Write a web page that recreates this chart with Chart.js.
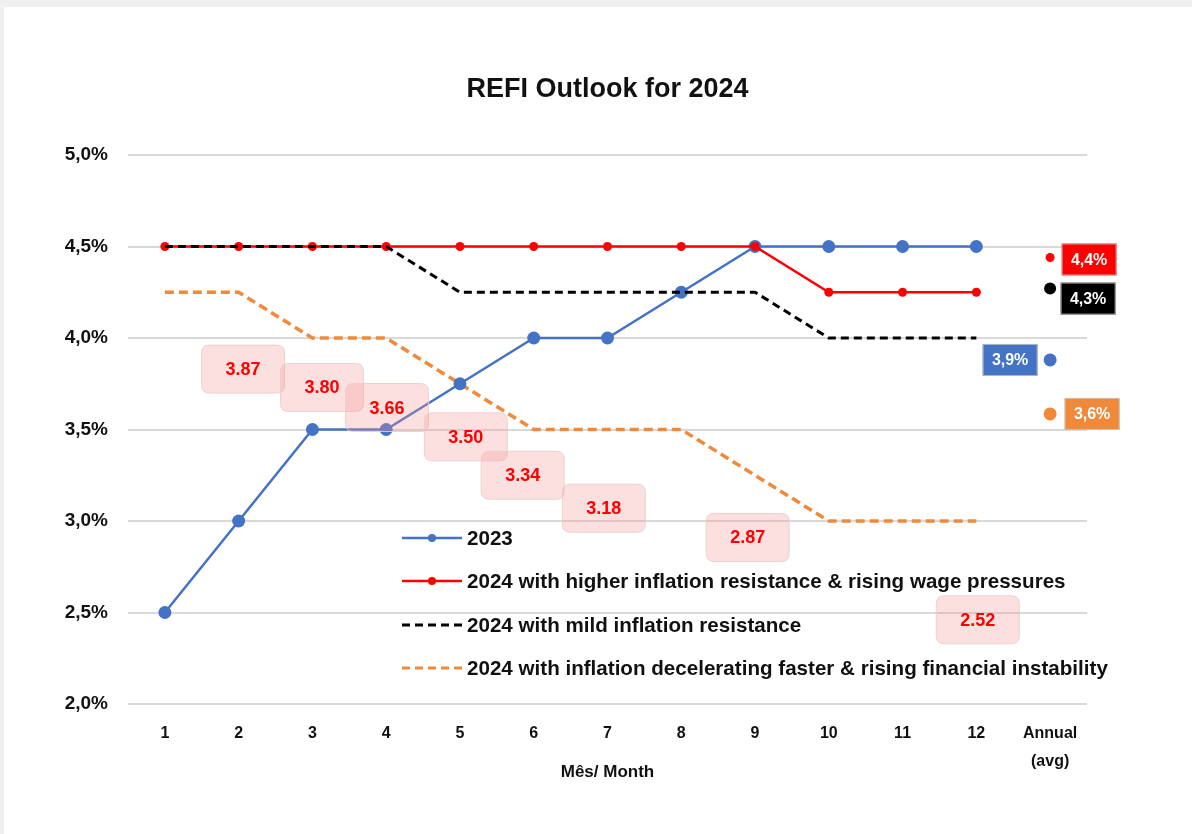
<!DOCTYPE html>
<html><head><meta charset="utf-8">
<script src="https://cdn.jsdelivr.net/npm/chart.js@4.4.1/dist/chart.umd.min.js"></script>
<style>
html,body{margin:0;padding:0;background:#efefef;width:1192px;height:834px;overflow:hidden}
#card{position:absolute;left:4px;top:7px;width:1188px;height:827px;background:#fff}
canvas{display:block}
</style></head><body>
<div id="card"><canvas id="c" width="1188" height="827"></canvas></div>
<script>
// ---- data ----
const months = [1,2,3,4,5,6,7,8,9,10,11,12];
const annualPos = 13;
const annualLabel = ['Annual','(avg)'];
const yTicks = [2.0,2.5,3.0,3.5,4.0,4.5,5.0];
const seriesNames = ['2023','2024 with higher inflation resistance & rising wage pressures','2024 with mild inflation resistance','2024 with inflation decelerating faster & rising financial instability'];
const s2023 = [2.5,3.0,3.5,3.5,3.75,4.0,4.0,4.25,4.5,4.5,4.5,4.5];
const sHigh = [4.5,4.5,4.5,4.5,4.5,4.5,4.5,4.5,4.5,4.25,4.25,4.25];
const sMild = [4.5,4.5,4.5,4.5,4.25,4.25,4.25,4.25,4.25,4.0,4.0,4.0];
const sFast = [4.25,4.25,4.0,4.0,3.75,3.5,3.5,3.5,3.25,3.0,3.0,3.0];
// annual averages: higher, mild, 2023, faster
const annualAvg = [4.44,4.27,3.88,3.585];
// forward-rate call-outs: shown value and where they sit on the chart
const fwdValues = ['3.87','3.80','3.66','3.50','3.34','3.18','2.87','2.52'];
const fwdPosX = [2.06,3.13,4.01,5.08,5.85,6.95,8.90,12.02];
const fwdPosY = [3.83,3.73,3.62,3.46,3.25,3.07,2.91,2.46];

// ---- styles ----
const BLUE='#4472C4', RED='#FF0000', BLACK='#000000', ORANGE='#F08A3A';
const FONT='"Liberation Sans", Arial, Helvetica, sans-serif';
const TXT='#111111';
const annualColors=[RED,BLACK,BLUE,ORANGE];
const annualRadius=[4.5,6,6.5,6.5];
const annualBoxOffset=[[39,2],[38,10],[-40,0],[42,0]];

const toXY = arr => arr.map((v,i)=>({x:months[i], y:v}));

function rr(ctx,x,y,w,h,r){
  ctx.beginPath();
  ctx.moveTo(x+r,y);ctx.lineTo(x+w-r,y);ctx.quadraticCurveTo(x+w,y,x+w,y+r);
  ctx.lineTo(x+w,y+h-r);ctx.quadraticCurveTo(x+w,y+h,x+w-r,y+h);
  ctx.lineTo(x+r,y+h);ctx.quadraticCurveTo(x,y+h,x,y+h-r);
  ctx.lineTo(x,y+r);ctx.quadraticCurveTo(x,y,x+r,y);ctx.closePath();
}

const overlay = {
  id:'overlay',
  afterDatasetsDraw(chart){
    const ctx=chart.ctx;
    ctx.save();
    // forward call-out boxes
    const fm=chart.getDatasetMeta(5);
    fm.data.forEach((pt,i)=>{
      const w=83,h=48;
      rr(ctx,pt.x-w/2,pt.y-h/2,w,h,8);
      ctx.fillStyle='rgba(245,150,150,0.30)';ctx.fill();
      ctx.strokeStyle='rgba(235,205,205,0.9)';ctx.lineWidth=1;ctx.stroke();
      ctx.fillStyle=RED;ctx.font='bold 18px '+FONT;ctx.textAlign='center';ctx.textBaseline='middle';
      ctx.fillText(fwdValues[i],pt.x,pt.y+1);
    });
    // annual value boxes
    const am=chart.getDatasetMeta(4);
    am.data.forEach((pt,i)=>{
      const w=55,h=32,cx=pt.x+annualBoxOffset[i][0],cy=pt.y+annualBoxOffset[i][1];
      ctx.fillStyle=annualColors[i];ctx.fillRect(cx-w/2,cy-h/2,w,h);
      ctx.strokeStyle='rgba(200,200,200,0.8)';ctx.lineWidth=1;ctx.strokeRect(cx-w/2+0.5,cy-h/2+0.5,w-1,h-1);
      ctx.fillStyle='#fff';ctx.font='bold 16px '+FONT;ctx.textAlign='center';ctx.textBaseline='middle';
      ctx.fillText(annualAvg[i].toFixed(1).replace('.',',')+'%',cx,cy+1);
    });
    ctx.restore();
  },
  afterDraw(chart){
    const ctx=chart.ctx;
    ctx.save();
    const rows=[531,574,618,661];
    const x0=398,x1=458,tx=463;
    const styles=[
      {c:BLUE,w:2.5,dash:[],dot:4},
      {c:RED,w:2.5,dash:[],dot:4},
      {c:BLACK,w:3,dash:[8,5],dot:0},
      {c:ORANGE,w:3,dash:[8,5],dot:0}
    ];
    seriesNames.forEach((name,i)=>{
      const s=styles[i],y=rows[i];
      ctx.beginPath();ctx.setLineDash(s.dash);ctx.strokeStyle=s.c;ctx.lineWidth=s.w;
      ctx.moveTo(x0,y);ctx.lineTo(x1,y);ctx.stroke();ctx.setLineDash([]);
      if(s.dot){ctx.beginPath();ctx.fillStyle=s.c;ctx.arc((x0+x1)/2,y,s.dot,0,Math.PI*2);ctx.fill();}
      ctx.fillStyle=TXT;ctx.font='bold 20.6px '+FONT;ctx.textAlign='left';ctx.textBaseline='middle';
      ctx.fillText(name,tx,y+1);
    });
    ctx.restore();
  }
};

new Chart(document.getElementById('c'),{
  type:'line',
  data:{datasets:[
    {label:seriesNames[0],data:toXY(s2023),borderColor:BLUE,backgroundColor:BLUE,borderWidth:2.5,pointRadius:6.5,pointBorderWidth:0,pointBackgroundColor:BLUE,order:3,tension:0},
    {label:seriesNames[1],data:toXY(sHigh),borderColor:RED,backgroundColor:RED,borderWidth:2.5,pointRadius:4.5,pointBorderWidth:0,pointBackgroundColor:RED,order:2},
    {label:seriesNames[2],data:toXY(sMild),borderColor:BLACK,borderWidth:3,borderDash:[8,5],pointRadius:0,order:1},
    {label:seriesNames[3],data:toXY(sFast),borderColor:ORANGE,borderWidth:3.5,borderDash:[9,5],pointRadius:0,order:4},
    {label:'Annual',data:annualAvg.map(v=>({x:annualPos,y:v})),showLine:false,pointRadius:annualRadius,pointBackgroundColor:annualColors,pointBorderWidth:0,order:0,clip:false},
    {label:'Forward',data:fwdPosX.map((x,i)=>({x:x,y:fwdPosY[i]})),showLine:false,pointRadius:0,order:5,clip:false}
  ]},
  options:{
    responsive:false,animation:false,events:[],devicePixelRatio:1,
    layout:{padding:{left:0,right:105,top:0,bottom:0}},
    plugins:{
      legend:{display:false},tooltip:{enabled:false},
      title:{display:true,fullSize:false,text:'REFI Outlook for 2024',color:TXT,font:{family:FONT,size:27,weight:'bold'},padding:{top:66,bottom:49.6}}
    },
    scales:{
      x:{type:'linear',min:0.5,max:13.5,
        afterBuildTicks:s=>{s.ticks=months.concat([annualPos]).map(v=>({value:v}));},
        ticks:{autoSkip:false,maxRotation:0,color:TXT,padding:16,font:{family:FONT,size:16,weight:'bold',lineHeight:1.75},
          callback:v=>v===annualPos?annualLabel:String(v)},
        grid:{display:false,drawTicks:false},border:{display:false},
        title:{display:true,text:'Mês/ Month',color:TXT,font:{family:FONT,size:17,weight:'bold'},padding:{top:0,bottom:51}},
        afterFit:s=>{s.height=130;}
      },
      y:{min:2,max:5,
        afterBuildTicks:s=>{s.ticks=yTicks.map(v=>({value:v}));},
        ticks:{color:TXT,padding:20,font:{family:FONT,size:19,weight:'bold'},callback:v=>v.toFixed(1).replace('.',',')+'%'},
        grid:{color:'#d9d9d9',lineWidth:2,drawTicks:false},border:{display:false},
        afterFit:s=>{s.width=124;}
      }
    }
  },
  plugins:[overlay]
});
</script>
</body></html>
